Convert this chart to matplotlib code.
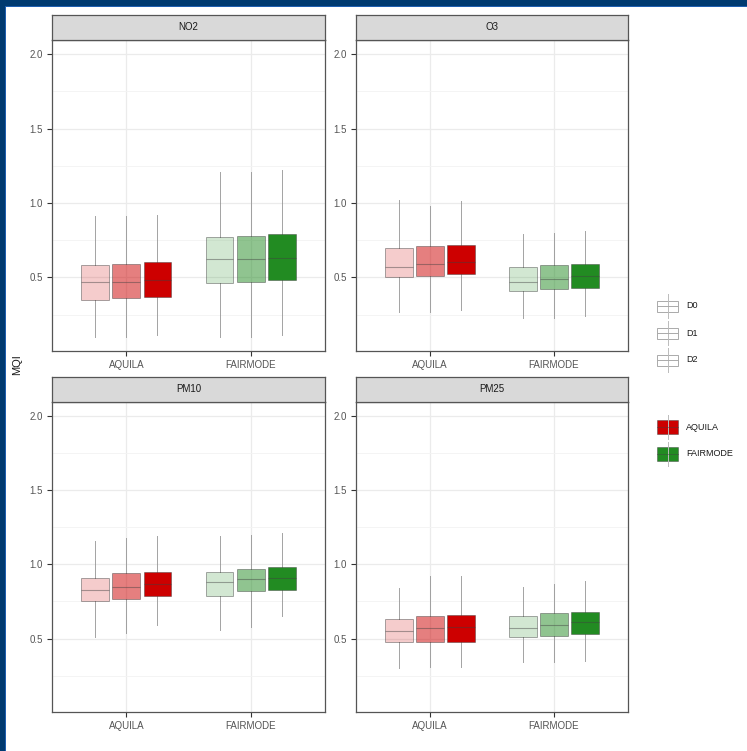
import matplotlib
matplotlib.use("Agg")
import matplotlib.pyplot as plt
from matplotlib.patches import Rectangle
from matplotlib.ticker import MultipleLocator
from matplotlib import rcParams

rcParams["font.family"] = ["Liberation Sans", "DejaVu Sans"]

# 数据: 每个污染物、每个模型、每个预报日 (D0/D1/D2) 的箱线统计量
pollutants = ["NO2", "O3", "PM10", "PM25"]
models = ["AQUILA", "FAIRMODE"]
days = ["D0", "D1", "D2"]

# 顺序: [whislo, q1, med, q3, whishi]
no2_aquila = [[0.10, 0.35, 0.47, 0.58, 0.91],
              [0.10, 0.36, 0.47, 0.59, 0.91],
              [0.11, 0.37, 0.48, 0.60, 0.92]]
no2_fairmode = [[0.10, 0.46, 0.62, 0.77, 1.21],
                [0.10, 0.47, 0.62, 0.78, 1.21],
                [0.11, 0.48, 0.63, 0.79, 1.22]]
o3_aquila = [[0.27, 0.50, 0.57, 0.70, 1.02],
             [0.27, 0.51, 0.59, 0.71, 0.98],
             [0.28, 0.52, 0.60, 0.72, 1.01]]
o3_fairmode = [[0.23, 0.41, 0.47, 0.57, 0.79],
               [0.23, 0.42, 0.49, 0.58, 0.80],
               [0.24, 0.43, 0.51, 0.59, 0.81]]
pm10_aquila = [[0.51, 0.75, 0.83, 0.91, 1.16],
               [0.54, 0.77, 0.85, 0.94, 1.18],
               [0.59, 0.79, 0.87, 0.95, 1.19]]
pm10_fairmode = [[0.56, 0.79, 0.88, 0.95, 1.19],
                 [0.58, 0.82, 0.90, 0.97, 1.20],
                 [0.65, 0.83, 0.91, 0.98, 1.21]]
pm25_aquila = [[0.30, 0.48, 0.55, 0.63, 0.84],
               [0.31, 0.48, 0.57, 0.65, 0.92],
               [0.31, 0.48, 0.58, 0.66, 0.92]]
pm25_fairmode = [[0.34, 0.51, 0.57, 0.65, 0.85],
                 [0.34, 0.52, 0.59, 0.67, 0.87],
                 [0.35, 0.53, 0.61, 0.68, 0.89]]

panel_data = {
    "NO2": [no2_aquila, no2_fairmode],
    "O3": [o3_aquila, o3_fairmode],
    "PM10": [pm10_aquila, pm10_fairmode],
    "PM25": [pm25_aquila, pm25_fairmode],
}

model_colors = {"AQUILA": "#CD0000", "FAIRMODE": "#228B22"}
day_alpha = {"D0": 0.2, "D1": 0.5, "D2": 1.0}

W, H = 747, 751
fig = plt.figure(figsize=(W / 100, H / 100), dpi=100)
fig.patch.set_facecolor("white")


def px_axes(x0, y0, x1, y1, **kw):
    # 以像素坐标 (左上原点) 添加坐标轴
    return fig.add_axes([x0 / W, 1 - y1 / H, (x1 - x0) / W, (y1 - y0) / H], **kw)


# 面板位置 (像素): 绘图区和标题条
panel_boxes = {
    "NO2": (52, 40, 325, 351),
    "O3": (356, 40, 628, 351),
    "PM10": (52, 402, 325, 712),
    "PM25": (356, 402, 628, 712),
}
strip_h = 25
offsets = [-0.25, 0.0, 0.25]
box_w = 0.225
edge_col = (0.25, 0.25, 0.25, 0.45)
whisk_col = (0.55, 0.55, 0.55, 0.8)

for pol in pollutants:
    x0, y0, x1, y1 = panel_boxes[pol]
    ax = px_axes(x0, y0, x1, y1)
    ax.set_xlim(0.4, 2.6)
    ax.set_ylim(0.005, 2.095)
    ax.yaxis.set_major_locator(MultipleLocator(0.5))
    ax.yaxis.set_minor_locator(MultipleLocator(0.25))
    ax.set_xticks([1, 2])
    ax.set_xticklabels(models)
    ax.set_yticks([0.5, 1.0, 1.5, 2.0])
    ax.set_yticklabels(["0.5", "1.0", "1.5", "2.0"])
    ax.grid(which="major", color="#ebebeb", lw=0.9, zorder=0)
    ax.grid(which="minor", axis="y", color="#f3f3f3", lw=0.6, zorder=0)
    ax.set_axisbelow(True)
    ax.tick_params(axis="both", which="major", labelsize=7, colors="#333333",
                   labelcolor="#555555", length=3.5, width=0.8, pad=3)
    ax.tick_params(axis="y", which="minor", length=0)
    for sp in ax.spines.values():
        sp.set_color("#555555")
        sp.set_linewidth(0.9)

    for mi, model in enumerate(models):
        for di, day in enumerate(days):
            lo, q1, med, q3, hi = panel_data[pol][mi][di]
            stats = [{"whislo": lo, "q1": q1, "med": med, "q3": q3, "whishi": hi}]
            bp = ax.bxp(stats, positions=[mi + 1 + offsets[di]], widths=box_w,
                        patch_artist=True, showcaps=False, showfliers=False,
                        manage_ticks=False)
            for b in bp["boxes"]:
                b.set_facecolor(model_colors[model])
                b.set_alpha(None)
                b.set_facecolor(matplotlib.colors.to_rgba(model_colors[model], day_alpha[day]))
                b.set_edgecolor(edge_col)
                b.set_linewidth(0.7)
                b.set_zorder(3)
            for wl in bp["whiskers"]:
                wl.set_color(whisk_col)
                wl.set_linewidth(0.7)
                wl.set_zorder(2)
            for ml in bp["medians"]:
                ml.set_color(edge_col)
                ml.set_linewidth(0.8)
                ml.set_zorder(4)

    # 标题条
    sax = px_axes(x0, y0 - strip_h, x1, y0)
    sax.set_facecolor("#d9d9d9")
    sax.set_xticks([])
    sax.set_yticks([])
    for sp in sax.spines.values():
        sp.set_color("#555555")
        sp.set_linewidth(0.9)
    sax.text(0.5, 0.5, pol, ha="center", va="center", fontsize=7, color="#1a1a1a",
             transform=sax.transAxes)

# 覆盖层: 边框、y 轴标题和图例
ov = fig.add_axes([0, 0, 1, 1], zorder=-1)
ov.set_xlim(0, W)
ov.set_ylim(H, 0)
ov.axis("off")
ov.add_patch(Rectangle((0, 0), W, 6, color="#003a70", lw=0))
ov.add_patch(Rectangle((0, 5.5), W, 1.5, color="#1f5fb0", lw=0))
ov.add_patch(Rectangle((0, 0), 5, H, color="#003a70", lw=0))
ov.add_patch(Rectangle((4.5, 6), 1.5, H, color="#1f5fb0", lw=0))

lg = fig.add_axes([0, 0, 1, 1], zorder=5)
lg.set_xlim(0, W)
lg.set_ylim(H, 0)
lg.axis("off")
lg.patch.set_alpha(0)
lg.text(17, 365, "MQI", rotation=90, ha="center", va="center", fontsize=8, color="#1a1a1a")

# 图例 1: 预报日
for i, day in enumerate(days):
    cy = 306 + i * 27
    lg.plot([667.5, 667.5], [cy - 12, cy + 12], color="#bbbbbb", lw=0.7)
    lg.add_patch(Rectangle((657, cy - 5.5), 21, 11, facecolor="white",
                           edgecolor="#aaaaaa", lw=0.7))
    lg.plot([657, 678], [cy, cy], color="#aaaaaa", lw=0.7)
    lg.text(686, cy, day, ha="left", va="center", fontsize=6.5, color="#1a1a1a")

# 图例 2: 模型
for i, model in enumerate(models):
    cy = 427 + i * 27
    lg.plot([667.5, 667.5], [cy - 12, cy + 12], color="#bbbbbb", lw=0.7)
    lg.add_patch(Rectangle((657, cy - 7), 21, 14, facecolor=model_colors[model],
                           edgecolor=edge_col, lw=0.7))
    lg.plot([657, 678], [cy, cy], color=edge_col, lw=0.7)
    lg.text(686, cy, model, ha="left", va="center", fontsize=6.5, color="#1a1a1a")

fig.savefig("out.png", dpi=100, facecolor="white")
